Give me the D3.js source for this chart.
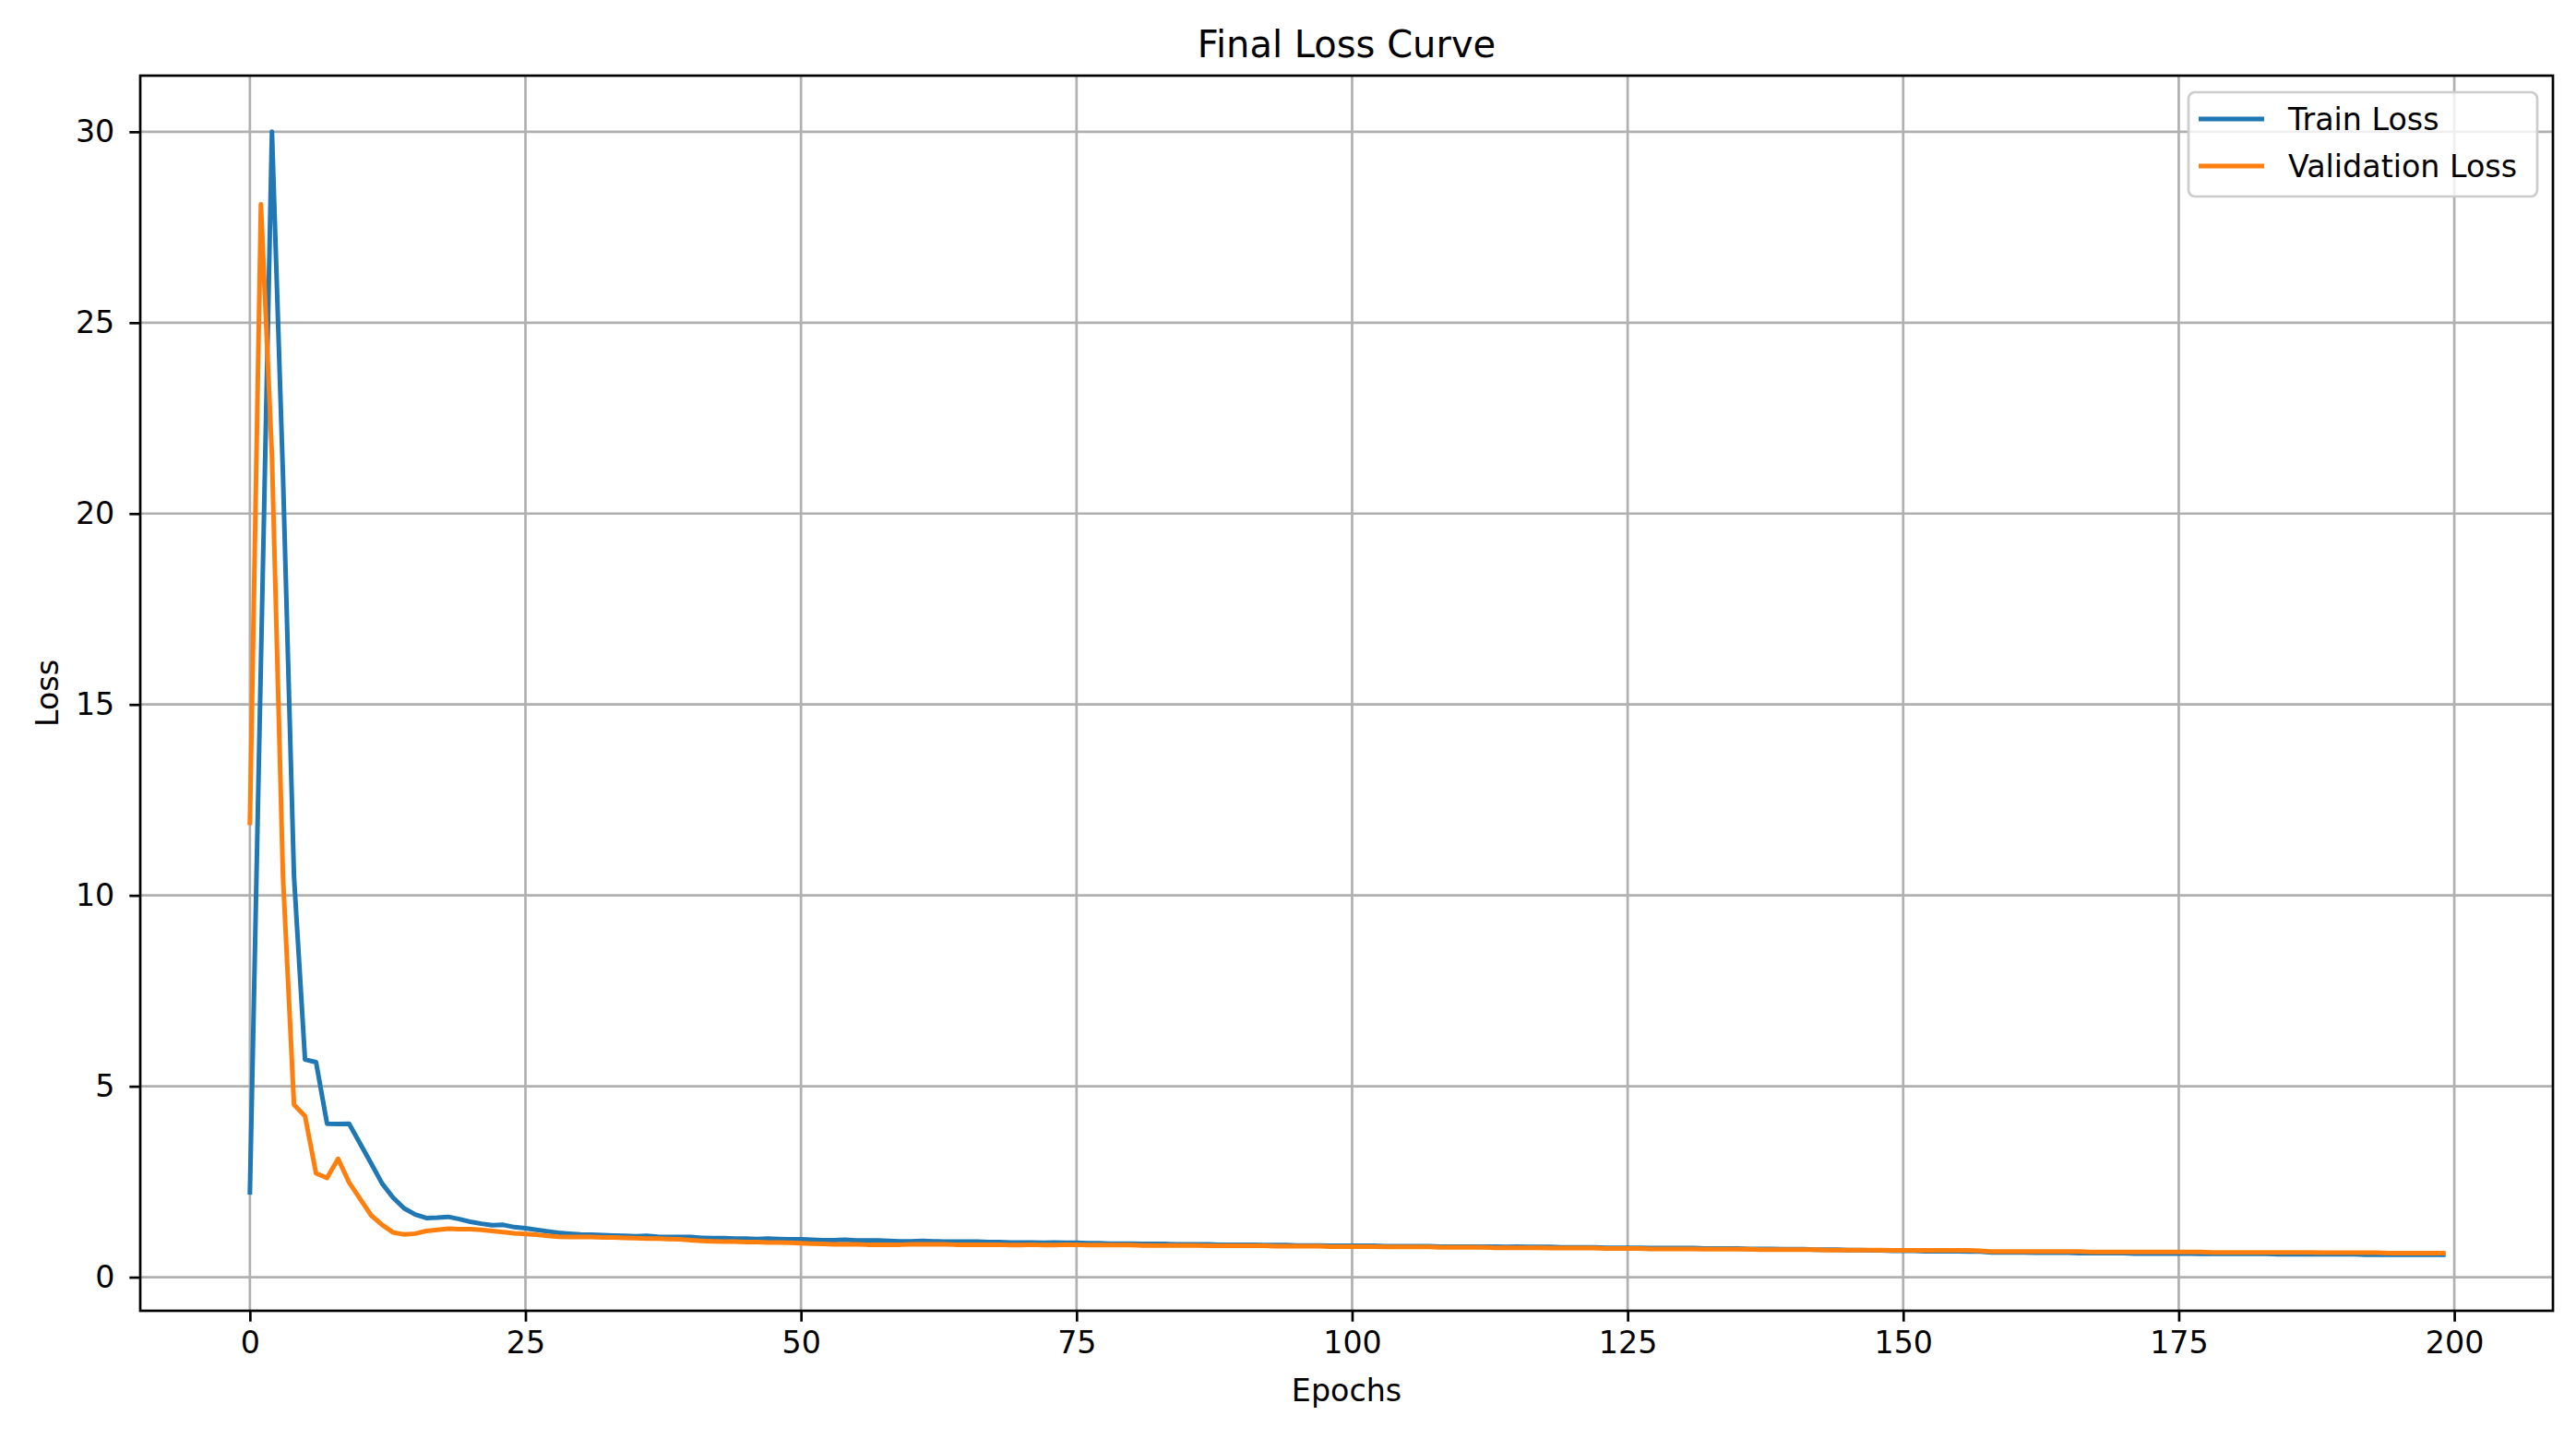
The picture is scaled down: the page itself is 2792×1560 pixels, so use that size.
<!DOCTYPE html>
<html lang="en">
	<head>
		<meta charset="utf-8">
		<title>Final Loss Curve</title>
		<script type="text/javascript" src="https://d3js.org/d3.v7.min.js"></script>
		<style>
			body { margin: 0; background: #ffffff; }
			text { font-family: "DejaVu Sans", sans-serif; fill: #000000; }
			.grid line { stroke: #b0b0b0; stroke-width: 2.7px; }
			.axis path { display: none; }
			.axis line { stroke: #000000; stroke-width: 2.7px; }
			.axis text { font-size: 33.3px; }
			.line { fill: none; stroke-width: 5px; stroke-linejoin: round; stroke-linecap: square; }
		</style>
	</head>
	<body>
		<script type="text/javascript">

			// figure size and axes box (matplotlib style)
			var W = 2792, H = 1560;
			var margin = {top: 82, right: 25, bottom: 139, left: 152},
				w = W - margin.left - margin.right,
				h = H - margin.top - margin.bottom;

			var seriesNames = ["Train Loss", "Validation Loss"];
			var colors = {"Train Loss": "#1f77b4", "Validation Loss": "#ff7f0e"};
			var xTicks = [0, 25, 50, 75, 100, 125, 150, 175, 200];
			var yTicks = [0, 5, 10, 15, 20, 25, 30];

			// values, epochs 0..199
			var trainLoss = [
				2.22, 16.1, 30.0, 21.0, 10.5, 5.70, 5.63, 4.02, 4.01, 4.02,
				3.50, 2.98, 2.45, 2.08, 1.80, 1.64, 1.55, 1.56, 1.58, 1.52,
				1.45, 1.40, 1.36, 1.37, 1.31, 1.28, 1.24, 1.20, 1.16, 1.14,
				1.12, 1.11, 1.10, 1.09, 1.08, 1.07, 1.08, 1.06, 1.05, 1.05,
				1.05, 1.03, 1.02, 1.02, 1.01, 1.01, 1.00, 1.01, 1.00, 0.99,
				0.99, 0.98, 0.97, 0.97, 0.98, 0.96, 0.96, 0.96, 0.95, 0.94,
				0.94, 0.95, 0.94, 0.93, 0.93, 0.93, 0.93, 0.92, 0.92, 0.91,
				0.91, 0.91, 0.90, 0.91, 0.90, 0.90, 0.89, 0.89, 0.88, 0.88,
				0.88, 0.87, 0.87, 0.87, 0.86, 0.86, 0.86, 0.86, 0.85, 0.85,
				0.85, 0.85, 0.84, 0.84, 0.84, 0.83, 0.83, 0.83, 0.82, 0.82,
				0.82, 0.82, 0.82, 0.81, 0.81, 0.81, 0.81, 0.81, 0.80, 0.80,
				0.80, 0.80, 0.80, 0.80, 0.79, 0.80, 0.79, 0.79, 0.79, 0.78,
				0.78, 0.78, 0.78, 0.77, 0.77, 0.77, 0.77, 0.76, 0.76, 0.76,
				0.76, 0.76, 0.75, 0.75, 0.75, 0.75, 0.74, 0.74, 0.74, 0.73,
				0.73, 0.73, 0.72, 0.72, 0.72, 0.71, 0.71, 0.70, 0.70, 0.69,
				0.69, 0.69, 0.68, 0.68, 0.68, 0.68, 0.67, 0.67, 0.65, 0.65,
				0.65, 0.65, 0.64, 0.64, 0.64, 0.64, 0.63, 0.63, 0.63, 0.63,
				0.63, 0.62, 0.62, 0.62, 0.62, 0.62, 0.62, 0.61, 0.61, 0.61,
				0.61, 0.61, 0.61, 0.61, 0.60, 0.60, 0.60, 0.60, 0.60, 0.60,
				0.60, 0.60, 0.59, 0.59, 0.59, 0.59, 0.59, 0.59, 0.59, 0.59
			];

			var valLoss = [
				11.9, 28.1, 21.5, 10.5, 4.52, 4.22, 2.72, 2.60, 3.10, 2.48,
				2.05, 1.62, 1.37, 1.17, 1.12, 1.14, 1.21, 1.24, 1.27, 1.26,
				1.26, 1.24, 1.21, 1.18, 1.15, 1.13, 1.11, 1.08, 1.06, 1.05,
				1.05, 1.05, 1.04, 1.04, 1.03, 1.02, 1.01, 1.01, 1.00, 0.99,
				0.97, 0.95, 0.94, 0.93, 0.93, 0.92, 0.92, 0.91, 0.91, 0.90,
				0.89, 0.88, 0.87, 0.86, 0.86, 0.86, 0.85, 0.85, 0.85, 0.85,
				0.86, 0.86, 0.86, 0.86, 0.85, 0.85, 0.85, 0.85, 0.85, 0.84,
				0.84, 0.85, 0.84, 0.84, 0.85, 0.85, 0.84, 0.84, 0.84, 0.84,
				0.84, 0.83, 0.83, 0.83, 0.83, 0.83, 0.83, 0.82, 0.82, 0.82,
				0.82, 0.82, 0.82, 0.81, 0.81, 0.81, 0.81, 0.81, 0.80, 0.80,
				0.80, 0.80, 0.80, 0.79, 0.79, 0.79, 0.79, 0.79, 0.78, 0.78,
				0.78, 0.78, 0.78, 0.77, 0.77, 0.77, 0.77, 0.77, 0.76, 0.76,
				0.76, 0.76, 0.76, 0.75, 0.75, 0.75, 0.75, 0.74, 0.74, 0.74,
				0.74, 0.74, 0.73, 0.73, 0.73, 0.73, 0.73, 0.72, 0.72, 0.72,
				0.72, 0.72, 0.72, 0.71, 0.71, 0.71, 0.71, 0.71, 0.71, 0.70,
				0.70, 0.70, 0.70, 0.70, 0.70, 0.70, 0.70, 0.69, 0.67, 0.67,
				0.67, 0.67, 0.67, 0.67, 0.67, 0.67, 0.67, 0.66, 0.66, 0.66,
				0.66, 0.66, 0.66, 0.66, 0.66, 0.66, 0.66, 0.66, 0.65, 0.65,
				0.65, 0.65, 0.65, 0.65, 0.65, 0.65, 0.65, 0.65, 0.64, 0.64,
				0.64, 0.64, 0.64, 0.64, 0.63, 0.63, 0.63, 0.63, 0.63, 0.63
			];

			var series = [
				{name: seriesNames[0], values: trainLoss},
				{name: seriesNames[1], values: valLoss}
			];

			// 5% auto margins like matplotlib
			var xMin = 0, xMax = trainLoss.length - 1;
			var xPad = (xMax - xMin) * 0.05;
			var allVals = trainLoss.concat(valLoss);
			var yMin = d3.min(allVals), yMax = d3.max(allVals);
			var yPad = (yMax - yMin) * 0.05;

			var xScale = d3.scaleLinear()
						   .domain([xMin - xPad, xMax + xPad])
						   .range([0, w]);

			var yScale = d3.scaleLinear()
						   .domain([yMin - yPad, yMax + yPad])
						   .range([h, 0]);

			var svg = d3.select("body")
						.append("svg")
						.attr("width", W)
						.attr("height", H);

			svg.append("rect")
				.attr("width", W)
				.attr("height", H)
				.attr("fill", "#ffffff");

			var g = svg.append("g")
						.attr("transform", "translate(" + margin.left + "," + margin.top + ")");

			// grid
			var grid = g.append("g").attr("class", "grid");
			grid.selectAll(".vgrid")
				.data(xTicks)
				.enter().append("line")
				.attr("x1", function(d) { return xScale(d); })
				.attr("x2", function(d) { return xScale(d); })
				.attr("y1", 0)
				.attr("y2", h);
			grid.selectAll(".hgrid")
				.data(yTicks)
				.enter().append("line")
				.attr("x1", 0)
				.attr("x2", w)
				.attr("y1", function(d) { return yScale(d); })
				.attr("y2", function(d) { return yScale(d); });

			// lines
			var line = d3.line()
						.x(function(d, i) { return xScale(i); })
						.y(function(d) { return yScale(d); });

			g.selectAll(".line")
				.data(series)
				.enter().append("path")
				.attr("class", "line")
				.attr("d", function(d) { return line(d.values); })
				.style("stroke", function(d) { return colors[d.name]; });

			// axes
			var xAxis = d3.axisBottom(xScale)
						  .tickValues(xTicks)
						  .tickSize(11.7)
						  .tickPadding(11);
			var yAxis = d3.axisLeft(yScale)
						  .tickValues(yTicks)
						  .tickSize(11.7)
						  .tickPadding(16);

			g.append("g")
				.attr("class", "axis")
				.attr("transform", "translate(0," + h + ")")
				.call(xAxis);

			g.append("g")
				.attr("class", "axis")
				.call(yAxis);

			// spines
			g.append("rect")
				.attr("width", w)
				.attr("height", h)
				.attr("fill", "none")
				.attr("stroke", "#000000")
				.attr("stroke-width", 2.7);

			// labels
			svg.append("text")
				.attr("x", margin.left + w / 2)
				.attr("y", 62)
				.attr("text-anchor", "middle")
				.style("font-size", "40px")
				.text("Final Loss Curve");

			svg.append("text")
				.attr("x", margin.left + w / 2)
				.attr("y", 1519)
				.attr("text-anchor", "middle")
				.style("font-size", "33.3px")
				.text("Epochs");

			svg.append("text")
				.attr("transform", "translate(63," + (margin.top + h / 2) + ") rotate(-90)")
				.attr("text-anchor", "middle")
				.style("font-size", "33.3px")
				.text("Loss");

			// legend
			var legend_x = 2372, legend_y = 100,
				legend_w = 378, legend_h = 113,
				row_h = 51;

			svg.append("rect")
				.attr("x", legend_x)
				.attr("y", legend_y)
				.attr("width", legend_w)
				.attr("height", legend_h)
				.attr("rx", 7)
				.attr("fill", "#ffffff")
				.attr("fill-opacity", 0.8)
				.attr("stroke", "#cccccc")
				.attr("stroke-width", 2.7);

			var leg = svg.selectAll(".legend")
						.data(seriesNames)
						.enter().append("g")
						.attr("transform", function(d, i) { return "translate(" + legend_x + "," + (legend_y + 29 + i * row_h) + ")"; });

			leg.append("line")
				.attr("x1", 11)
				.attr("x2", 82)
				.attr("y1", 0)
				.attr("y2", 0)
				.attr("stroke", function(d) { return colors[d]; })
				.attr("stroke-width", 5);

			leg.append("text")
				.attr("x", 108)
				.attr("y", 12)
				.style("font-size", "33.3px")
				.text(function(d) { return d; });

		</script>
	</body>
</html>
